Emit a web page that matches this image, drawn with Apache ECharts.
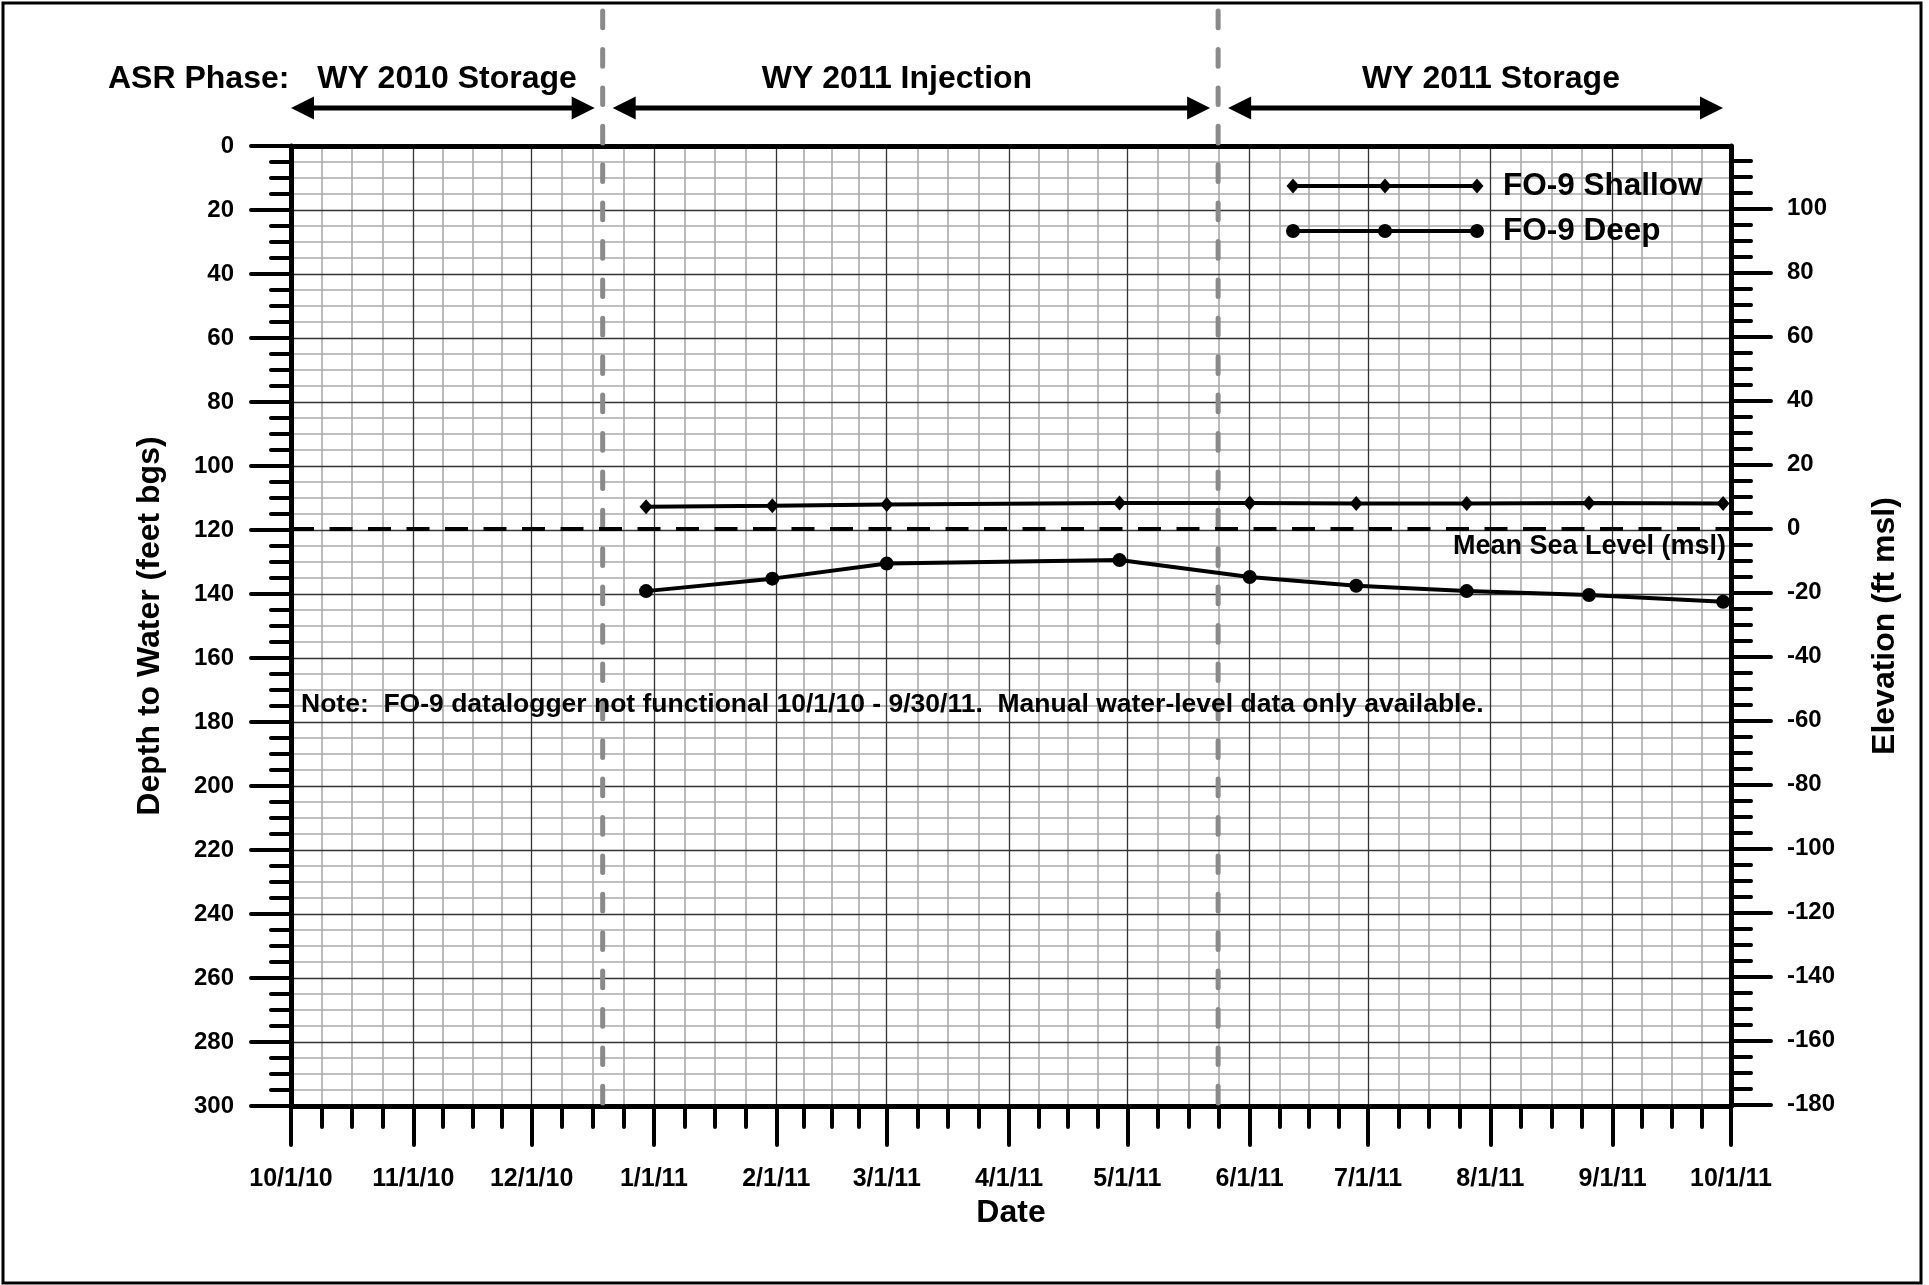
<!DOCTYPE html>
<html>
<head>
<meta charset="utf-8">
<script src="https://cdn.jsdelivr.net/npm/echarts@6/dist/echarts.min.js"></script>
<style>
html, body { margin: 0; padding: 0; background: #fff; }
#main { width: 1929px; height: 1285px; }
</style>
</head>
<body>
<div id="main"></div>
<script>
// 采样日期 / 水位埋深 (feet bgs)
var sampleDates = ['2010-12-30', '2011-01-31', '2011-03-01', '2011-04-29', '2011-06-01',
                   '2011-06-28', '2011-07-26', '2011-08-26', '2011-09-29'];
var shallowDepth = [112.7, 112.4, 112.0, 111.6, 111.6, 111.7, 111.7, 111.6, 111.7];
var deepDepth    = [139.1, 135.2, 130.5, 129.4, 134.7, 137.4, 139.1, 140.3, 142.4];

// ASR 阶段
var phaseNames  = ['WY 2010 Storage', 'WY 2011 Injection', 'WY 2011 Storage'];
var phaseBounds = ['2010-10-01', '2010-12-19', '2011-05-24', '2011-10-01'];

// 坐标轴刻度
var xTickDates = ['2010-10-01', '2010-11-01', '2010-12-01', '2011-01-01', '2011-02-01', '2011-03-01',
                  '2011-04-01', '2011-05-01', '2011-06-01', '2011-07-01', '2011-08-01', '2011-09-01', '2011-10-01'];
var elevTicks = [-180, -160, -140, -120, -100, -80, -60, -40, -20, 0, 20, 40, 60, 80, 100];
var groundElev = 119.5;   // 地面高程 = 0 埋深处的 ft msl

var FONT = '"Liberation Sans", Arial, sans-serif';

function toTime(s) {
    var p = s.split('-');
    return new Date(+p[0], +p[1] - 1, +p[2]).getTime();
}
function fmtDate(v) {
    var d = new Date(v);
    return (d.getMonth() + 1) + '/' + d.getDate() + '/' + String(d.getFullYear()).slice(2);
}

var monthTicks = xTickDates.map(toTime);
var quarterTicks = [];
for (var i = 0; i < monthTicks.length - 1; i++) {
    var a = monthTicks[i], b = monthTicks[i + 1];
    for (var k = 1; k < 4; k++) quarterTicks.push(a + (b - a) * k / 4);
}
var elevMinor = [];
for (var e = -175; e < groundElev; e += 5) {
    if (e % 20 !== 0) elevMinor.push(e);
}

var xMin = toTime(phaseBounds[0]), xMax = toTime(phaseBounds[3]);
var shallowData = sampleDates.map(function (d, i) { return [toTime(d), shallowDepth[i]]; });
var deepData = sampleDates.map(function (d, i) { return [toTime(d), deepDepth[i]]; });

var tickStyle = { color: '#000', width: 4, cap: 'round' };
var labelStyle = { color: '#000', fontSize: 24, fontWeight: 'bold', fontFamily: FONT };
var nameStyle = { color: '#000', fontSize: 32, fontWeight: 'bold', fontFamily: FONT };

var myChart = echarts.init(document.getElementById('main'));

var option = {
    animation: false,
    backgroundColor: '#fff',
    grid: { left: 291, right: 198, top: 146, bottom: 179, containLabel: false, outerBoundsMode: 'none' },
    xAxis: [
        {   // 月刻度
            type: 'value', min: xMin, max: xMax, position: 'bottom', z: 1,
            axisLine: { show: true, onZero: false, lineStyle: { color: '#000', width: 5 } },
            axisTick: { show: true, customValues: monthTicks, length: 39, lineStyle: tickStyle },
            axisLabel: { customValues: monthTicks, margin: 61, fontSize: 25, color: '#000',
                         fontWeight: 'bold', fontFamily: FONT,
                         formatter: function (v) { return fmtDate(v); } },
            splitLine: { show: true, lineStyle: { color: '#333', width: 1.3 } },
            name: 'Date', nameLocation: 'middle', nameGap: 91, nameTextStyle: nameStyle
        },
        {   // 1/4 月刻度
            type: 'value', min: xMin, max: xMax, position: 'bottom', z: 0,
            axisLine: { show: false, onZero: false },
            axisTick: { show: true, customValues: quarterTicks, length: 21, lineStyle: tickStyle },
            axisLabel: { show: false },
            splitLine: { show: true, lineStyle: { color: '#aaaaaa', width: 1.6 } }
        },
        {   // 上边框
            type: 'value', min: xMin, max: xMax, position: 'top', z: 1,
            axisLine: { show: true, onZero: false, lineStyle: { color: '#000', width: 5 } },
            axisTick: { show: false }, axisLabel: { show: false }, splitLine: { show: false }
        }
    ],
    yAxis: [
        {
            type: 'value', inverse: true, min: 0, max: 300, interval: 20, position: 'left', z: 1,
            axisLine: { show: true, onZero: false, lineStyle: { color: '#000', width: 5 } },
            axisTick: { show: true, length: 40, lineStyle: tickStyle },
            minorTick: { show: true, splitNumber: 4, length: 20, lineStyle: tickStyle },
            axisLabel: Object.assign({ margin: 57 }, labelStyle),
            splitLine: { show: true, lineStyle: { color: '#333', width: 1.3 } },
            minorSplitLine: { show: true, lineStyle: { color: '#aaaaaa', width: 1.6 } },
            name: 'Depth to Water (feet bgs)', nameLocation: 'middle', nameGap: 125, nameTextStyle: nameStyle
        },
        {
            type: 'value', min: groundElev - 300, max: groundElev, position: 'right', z: 1,
            axisLine: { show: true, onZero: false, lineStyle: { color: '#000', width: 5 } },
            axisTick: { show: true, customValues: elevTicks, length: 40, lineStyle: tickStyle },
            axisLabel: Object.assign({ customValues: elevTicks, margin: 56 }, labelStyle),
            splitLine: { show: false },
            name: 'Elevation (ft msl)', nameLocation: 'middle', nameGap: 138, nameTextStyle: nameStyle
        },
        {
            type: 'value', min: groundElev - 300, max: groundElev, position: 'right', z: 0,
            axisLine: { show: false, onZero: false },
            axisTick: { show: true, customValues: elevMinor, length: 20, lineStyle: tickStyle },
            axisLabel: { show: false },
            splitLine: { show: false }
        }
    ],
    series: [
        {
            name: 'FO-9 Shallow', type: 'line', xAxisIndex: 0, yAxisIndex: 0,
            data: shallowData, symbol: 'diamond', symbolSize: [13, 15],
            lineStyle: { color: '#000', width: 4 }, itemStyle: { color: '#000' }, z: 5
        },
        {
            name: 'FO-9 Deep', type: 'line', xAxisIndex: 0, yAxisIndex: 0,
            data: deepData, symbol: 'circle', symbolSize: 14,
            lineStyle: { color: '#000', width: 4 }, itemStyle: { color: '#000' }, z: 5
        },
        {
            name: 'msl', type: 'line', xAxisIndex: 0, yAxisIndex: 1, data: [], z: 4,
            markLine: {
                silent: true, symbol: 'none',
                lineStyle: { color: '#000', width: 4, type: [23, 15.5] },
                label: { show: true, position: 'insideEndBottom', formatter: 'Mean Sea Level (msl)',
                         color: '#000', fontSize: 27, fontWeight: 'bold', fontFamily: FONT, distance: 5 },
                data: [{ yAxis: 0 }]
            }
        }
    ]
};
myChart.setOption(option);

// 阶段分隔线、箭头、图例、注释
function px(t) { return myChart.convertToPixel({ xAxisIndex: 0 }, t); }
var yBot = myChart.convertToPixel({ yAxisIndex: 0 }, 300);
var g = [];

[1, 2].forEach(function (i) {
    var x = px(toTime(phaseBounds[i]));
    g.push({ type: 'line', z: 3, shape: { x1: x, y1: yBot - 3, x2: x, y2: 10 },
             style: { stroke: '#8a8a8a', lineWidth: 5, lineDash: [16.7, 21.7], lineCap: 'round' } });
});

var arrowY = 108, startInset = [0, 10, 10], endInset = 8;
phaseNames.forEach(function (n, i) {
    var x0 = px(toTime(phaseBounds[i])) + startInset[i];
    var x1 = px(toTime(phaseBounds[i + 1])) - endInset;
    g.push({ type: 'line', shape: { x1: x0 + 18, y1: arrowY, x2: x1 - 18, y2: arrowY },
             style: { stroke: '#000', lineWidth: 5 } });
    g.push({ type: 'polygon', shape: { points: [[x0, arrowY], [x0 + 23, arrowY - 11.5], [x0 + 23, arrowY + 11.5]] },
             style: { fill: '#000' } });
    g.push({ type: 'polygon', shape: { points: [[x1, arrowY], [x1 - 23, arrowY - 11.5], [x1 - 23, arrowY + 11.5]] },
             style: { fill: '#000' } });
});

function txt(x, y, s, size, align) {
    return { type: 'text', x: x, y: y, z: 10,
             style: { text: s, fill: '#000', font: 'bold ' + size + 'px ' + FONT,
                      textAlign: align, align: align, textVerticalAlign: 'middle', verticalAlign: 'middle' } };
}
var labelX = [447, 897, 1491];
g.push(txt(108, 79, 'ASR Phase:', 32, 'left'));
phaseNames.forEach(function (n, i) { g.push(txt(labelX[i], 79, n, 32, 'center')); });

// 图例
var legendX = [1293, 1385, 1477];
[['FO-9 Shallow', 186, 'diamond'], ['FO-9 Deep', 231, 'circle']].forEach(function (it) {
    var y = it[1];
    g.push({ type: 'line', z: 10, shape: { x1: legendX[0], y1: y, x2: legendX[2], y2: y },
             style: { stroke: '#000', lineWidth: 4 } });
    legendX.forEach(function (x) {
        if (it[2] === 'diamond') {
            g.push({ type: 'polygon', z: 10, shape: { points: [[x, y - 7.5], [x + 6.5, y], [x, y + 7.5], [x - 6.5, y]] },
                     style: { fill: '#000' } });
        } else {
            g.push({ type: 'circle', z: 10, shape: { cx: x, cy: y, r: 7 }, style: { fill: '#000' } });
        }
    });
    g.push(txt(1503, y, it[0], 31.5, 'left'));
});

g.push(txt(301, 705, 'Note:  FO-9 datalogger not functional 10/1/10 - 9/30/11.  Manual water-level data only available.', 26.5, 'left'));

// 外框
g.push({ type: 'rect', z: 10, shape: { x: 3, y: 3, width: 1918, height: 1280 },
         style: { fill: 'none', stroke: '#000', lineWidth: 3 } });

myChart.setOption({ graphic: { elements: g } });
</script>
</body>
</html>
